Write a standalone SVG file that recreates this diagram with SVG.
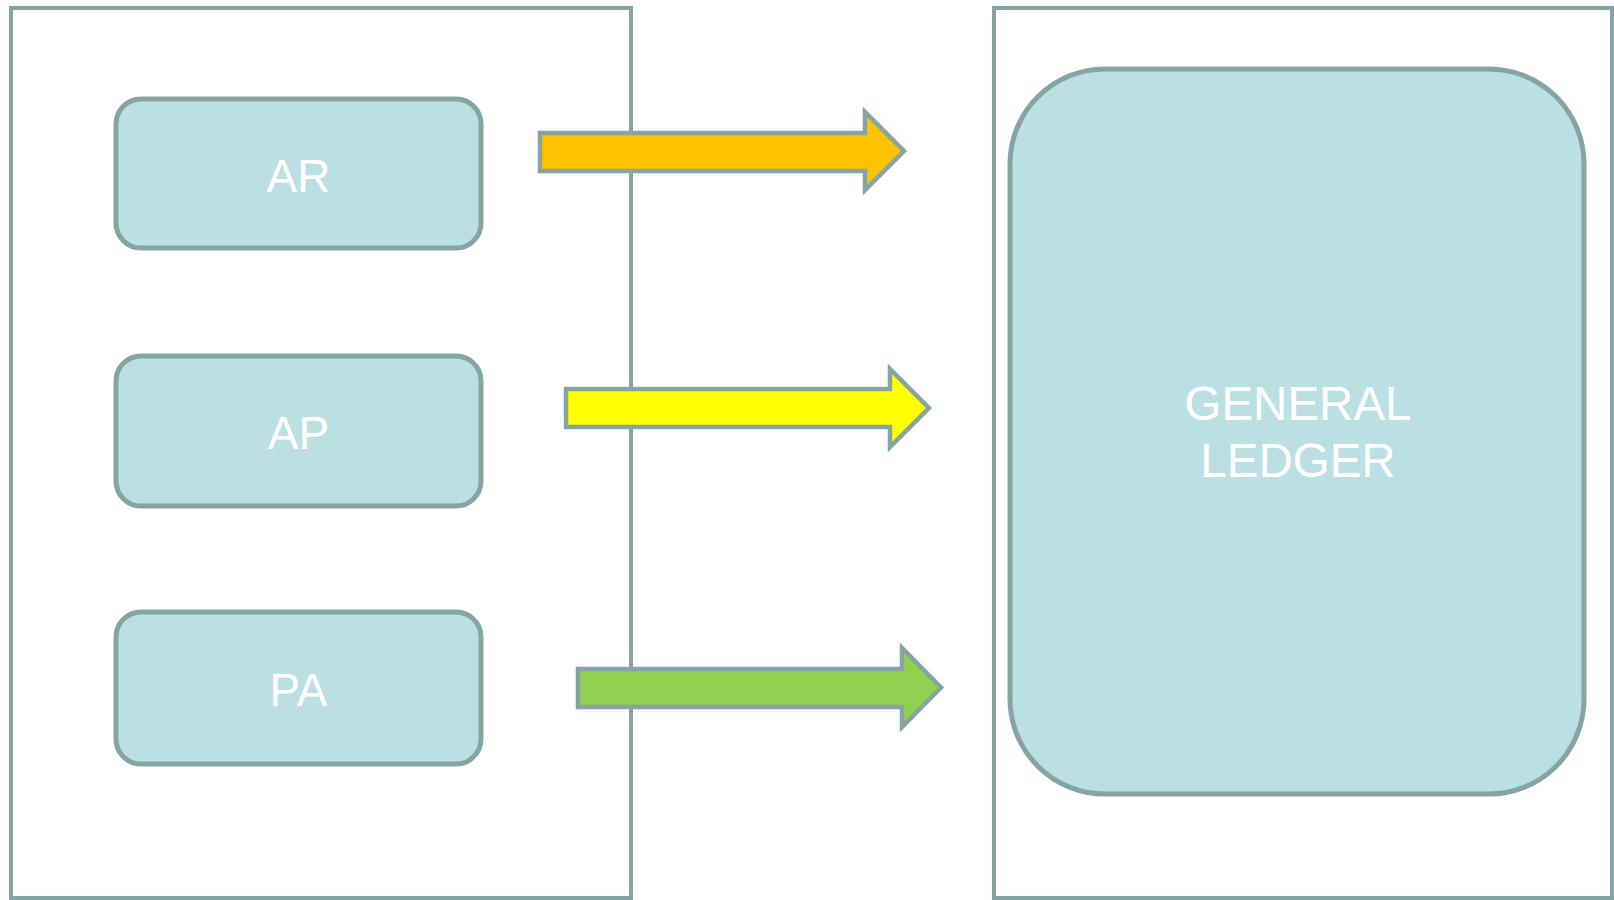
<svg xmlns="http://www.w3.org/2000/svg" width="1614" height="900" viewBox="0 0 1614 900">
<style>
.frame{fill:#ffffff;stroke:#87A4A4;stroke-width:4}
.node{fill:#BBE0E3;stroke:#87A4A4;stroke-width:5}
.lbl{font-family:"Liberation Sans",Arial,sans-serif;font-size:46px;fill:#ffffff;text-anchor:middle}
.arrow{stroke:#87A4A4;stroke-width:4.5}
</style>
<rect width="1614" height="900" fill="#ffffff"/>
<g id="left-container"><rect class="frame" x="11" y="8" width="620" height="890"/></g>
<g id="right-container"><rect class="frame" x="994" y="8" width="618" height="890"/></g>
<g id="ar"><rect class="node" x="116" y="99" width="365" height="149" rx="25"/><text class="lbl" x="298.5" y="191.5">AR</text></g>
<g id="ap"><rect class="node" x="116" y="356" width="365" height="150" rx="25"/><text class="lbl" x="298.5" y="449">AP</text></g>
<g id="pa"><rect class="node" x="116" y="612" width="365" height="152" rx="25"/><text class="lbl" x="298.5" y="706">PA</text></g>
<g id="general-ledger"><rect class="node" x="1010" y="69" width="574" height="725" rx="95"/><text class="lbl" x="1298" y="420" style="font-size:47.5px">GENERAL</text><text class="lbl" x="1298" y="476.5" style="font-size:47.5px">LEDGER</text></g>
<g id="connectors">
<polygon class="arrow" fill="#FFC000" points="540,133 865,133 865,112 904,151 865,190 865,171 540,171"/>
<polygon class="arrow" fill="#FFFF00" points="566,389 890,389 890,369 929,408 890,447 890,427 566,427"/>
<polygon class="arrow" fill="#92D050" points="578,669 902,669 902,648 941,687.5 902,727 902,707 578,707"/>
</g>
</svg>
